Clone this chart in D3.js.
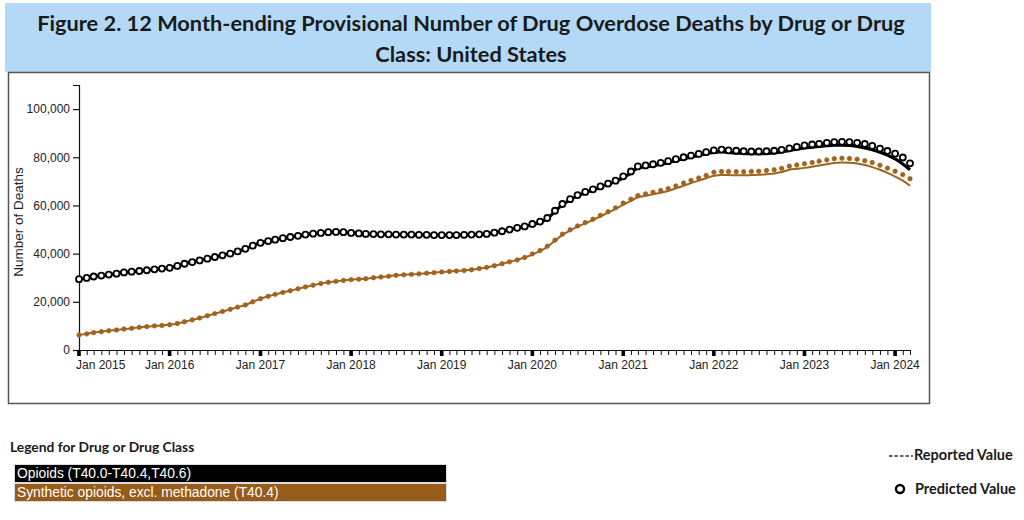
<!DOCTYPE html>
<html><head><meta charset="utf-8">
<script src="https://cdn.jsdelivr.net/npm/d3@7"></script>
<style>html,body{margin:0;padding:0;background:#fff;} svg{display:block;}</style>
</head><body><svg id="c" width="1024" height="520"></svg>
<script>
// ---------------- DATA ----------------
const titleLines = ["Figure 2. 12 Month-ending Provisional Number of Drug Overdose Deaths by Drug or Drug", "Class: United States"];
const yLabel = "Number of Deaths";
const yTicks = [0, 20000, 40000, 60000, 80000, 100000];
const xTickYears = [2015, 2016, 2017, 2018, 2019, 2020, 2021, 2022, 2023, 2024];
const seriesNames = ["Opioids (T40.0-T40.4,T40.6)", "Synthetic opioids, excl. methadone (T40.4)"];
const legendTitle = "Legend for Drug or Drug Class";
const markLegend = ["Reported Value", "Predicted Value"];

// monthly, Jan 2015 .. Mar 2024 (111 months)
const opioidsReported = [
  29400,29900,30500,30900,31300,31700,32200,32500,32800,33100,33500,33800,
  34100,34900,35800,36500,37200,37900,38600,39300,40000,40900,42000,43300,
  44500,45200,45800,46400,46900,47400,47900,48300,48600,48900,49000,48900,
  48600,48400,48200,48100,48000,48000,47900,47900,47900,47800,47800,47700,
  47700,47700,47700,47800,47900,48000,48200,48700,49300,50000,50700,51300,
  52000,53000,54500,57500,60300,62300,64000,65300,66400,67600,68800,70000,
  71500,73500,75600,76000,76500,77100,77800,78600,79400,80100,80800,81500,
  82000,82300,82000,81800,81600,81500,81500,81600,81800,82200,82800,83400,
  83900,84200,84500,84800,85000,85000,84900,84500,83900,83100,82100,80900,
  79300,77200,74800
];
const opioidsPredicted = [
  29400,29900,30500,30900,31300,31700,32200,32500,32800,33100,33500,33800,
  34100,34900,35800,36500,37200,37900,38600,39300,40000,40900,42000,43300,
  44500,45200,45800,46400,46900,47400,47900,48300,48600,48900,49000,48900,
  48600,48400,48200,48100,48000,48000,47900,47900,47900,47800,47800,47700,
  47700,47700,47700,47800,47900,48000,48200,48700,49300,50000,50700,51300,
  52300,53300,54800,57800,60600,62600,64300,65600,66700,67900,69100,70300,
  72100,74100,76200,76600,77100,77700,78400,79200,80000,80700,81400,82100,
  82900,83200,82900,82700,82500,82400,82400,82500,82700,83100,83700,84300,
  84900,85300,85600,86000,86300,86400,86300,86000,85500,84700,83600,82600,
  81500,79900,77500
];
const syntheticReported = [
  6200,6700,7200,7600,8000,8300,8700,9000,9400,9700,10000,10200,
  10500,11000,11700,12500,13300,14200,15100,16000,16900,17800,18700,20000,
  21300,22300,23100,23900,24600,25400,26200,26900,27600,28100,28500,28900,
  29200,29400,29600,30000,30300,30600,31000,31200,31400,31600,31900,32100,
  32400,32600,32800,33000,33300,33800,34300,35000,35800,36600,37400,38400,
  39600,41000,42800,45300,47800,49600,51200,52600,53900,55500,57000,58600,
  60300,61900,63400,64000,64600,65300,66000,67100,68200,69300,70300,71300,
  72300,72600,72600,72500,72500,72600,72700,73000,73300,73900,74800,75200,
  75600,76100,76600,77100,77600,77800,77700,77400,76800,75900,74800,73500,
  72000,70300,68200
];
const syntheticPredicted = [
  6200,6700,7200,7600,8000,8300,8700,9000,9400,9700,10000,10200,
  10500,11000,11700,12500,13300,14200,15100,16000,16900,17800,18700,20000,
  21300,22300,23100,23900,24600,25400,26200,26900,27600,28100,28500,28900,
  29200,29400,29600,30000,30300,30600,31000,31200,31400,31600,31900,32100,
  32400,32600,32800,33000,33300,33800,34300,35000,35800,36600,37400,38400,
  39900,41300,43100,45600,48100,49900,51500,52900,54300,55900,57400,59000,
  61000,62600,64100,64800,65500,66200,67000,68100,69300,70400,71400,72500,
  73800,74100,74100,74000,74000,74100,74200,74500,74800,75400,76300,76800,
  77300,77800,78400,78900,79400,79600,79500,79200,78600,77800,76700,75500,
  74200,72800,71100
];

// ---------------- COLORS ----------------
const cBlack = "#000000";
const cBrown = "#a0631f";
const cBand = "#b3d9f6";

// ---------------- CHART ----------------
const svg = d3.select("#c");
const months = d3.timeMonth.range(new Date(2015, 0, 1), new Date(2024, 3, 1));

// title band
svg.append("rect").attr("x", 5).attr("y", 3).attr("width", 926).attr("height", 69).attr("fill", cBand);
const t1 = svg.append("text").attr("x", 471).attr("y", 31).attr("text-anchor", "middle")
  .attr("font-family", "Lato, 'Open Sans', sans-serif").attr("font-weight", 700).attr("font-size", 20)
  .attr("fill", "#1a1a1a").text(titleLines[0]);
const len = t1.node().getComputedTextLength();
const fs = 20 * 868 / len;
t1.attr("font-size", fs);
svg.append("text").attr("x", 471).attr("y", 62).attr("text-anchor", "middle")
  .attr("font-family", "Lato, 'Open Sans', sans-serif").attr("font-weight", 700).attr("font-size", fs)
  .attr("fill", "#1a1a1a").text(titleLines[1]);

// chart box
svg.append("rect").attr("x", 8.5).attr("y", 72.5).attr("width", 921).attr("height", 331)
  .attr("fill", "#fff").attr("stroke", "#555").attr("stroke-width", 1.5);

const x = d3.scaleTime().domain([months[0], months[months.length - 1]]).range([79, 910]);
const y = d3.scaleLinear().domain([0, 110000]).range([350, 85]);

const axFont = "'Liberation Sans', Arial, sans-serif";

// y axis
const gy = svg.append("g").attr("transform", "translate(79,0)")
  .call(d3.axisLeft(y).tickValues(yTicks).tickFormat(d3.format(",")).tickSizeOuter(6));
gy.selectAll("text").attr("font-family", axFont).attr("font-size", 12).attr("fill", "#222");
gy.selectAll("path,line").attr("stroke", "#111").attr("stroke-width", 1.2);

svg.append("text").attr("transform", "translate(23,222) rotate(-90)").attr("text-anchor", "middle")
  .attr("font-family", axFont).attr("font-size", 13.5).attr("fill", "#222").text(yLabel);

// x axis minor ticks
const gx = svg.append("g").attr("transform", "translate(0,350)")
  .call(d3.axisBottom(x).tickValues(months).tickSize(5).tickSizeOuter(0).tickFormat(""));
gx.selectAll("path,line").attr("stroke", "#111").attr("stroke-width", 1);
gx.select(".domain").attr("d", "M73,0.5H" + x(months[months.length - 1]));

// x axis major ticks + labels
const jans = xTickYears.map(yr => new Date(yr, 0, 1));
const gxm = svg.append("g").attr("transform", "translate(0,350)");
gxm.selectAll("rect").data(jans).join("rect")
  .attr("x", d => x(d) - 1.8).attr("y", 0).attr("width", 3.6).attr("height", 6).attr("fill", "#000");
gxm.selectAll("text").data(jans).join("text")
  .attr("x", (d, i) => i === 0 ? x(d) - 3 : x(d)).attr("y", 18.5)
  .attr("text-anchor", (d, i) => i === 0 ? "start" : "middle")
  .attr("font-family", axFont).attr("font-size", 12).attr("fill", "#222")
  .text(d3.timeFormat("Jan %Y"));

// lines
const line = d3.line().x((d, i) => x(months[i])).y(d => y(d)).curve(d3.curveMonotoneX);

svg.append("path").attr("d", line(syntheticReported)).attr("fill", "none")
  .attr("stroke", cBrown).attr("stroke-width", 2);
svg.append("g").selectAll("circle").data(syntheticPredicted).join("circle")
  .attr("cx", (d, i) => x(months[i])).attr("cy", d => y(d)).attr("r", 2.2)
  .attr("fill", cBrown).attr("stroke", cBrown).attr("stroke-width", 0.8);

svg.append("path").attr("d", line(opioidsReported)).attr("fill", "none")
  .attr("stroke", cBlack).attr("stroke-width", 3.2);
svg.append("g").selectAll("circle").data(opioidsPredicted).join("circle")
  .attr("cx", (d, i) => x(months[i])).attr("cy", d => y(d)).attr("r", 3)
  .attr("fill", "#fff").attr("stroke", cBlack).attr("stroke-width", 1.8);

// legend (series)
const lgFont = "Lato, 'Open Sans', sans-serif";
svg.append("text").attr("x", 10).attr("y", 452).attr("font-family", lgFont).attr("font-weight", 700)
  .attr("font-size", 13.8).attr("fill", "#1a1a1a").text(legendTitle);
const legColors = [cBlack, "#975b1a"];
seriesNames.forEach((n, i) => {
  const yy = 464 + i * 19;
  svg.append("rect").attr("x", 14.5).attr("y", yy + 0.5).attr("width", 432).attr("height", 18)
    .attr("fill", legColors[i]).attr("stroke", "#ddd").attr("stroke-width", 1);
  svg.append("text").attr("x", 17).attr("y", yy + 14).attr("font-family", axFont).attr("font-size", 13.8)
    .attr("fill", "#fff").text(n);
});

// legend (marks)
svg.append("line").attr("x1", 889).attr("x2", 913).attr("y1", 456).attr("y2", 456)
  .attr("stroke", "#333").attr("stroke-width", 1.3).attr("stroke-dasharray", "3.5,2");
svg.append("text").attr("x", 914).attr("y", 460).attr("font-family", lgFont).attr("font-weight", 700)
  .attr("font-size", 14.5).attr("fill", "#1a1a1a").text(markLegend[0]);
svg.append("circle").attr("cx", 900).attr("cy", 489).attr("r", 4).attr("fill", "#fff")
  .attr("stroke", "#000").attr("stroke-width", 2.4);
svg.append("text").attr("x", 915).attr("y", 494).attr("font-family", lgFont).attr("font-weight", 700)
  .attr("font-size", 14.5).attr("fill", "#1a1a1a").text(markLegend[1]);
</script>
</body></html>
